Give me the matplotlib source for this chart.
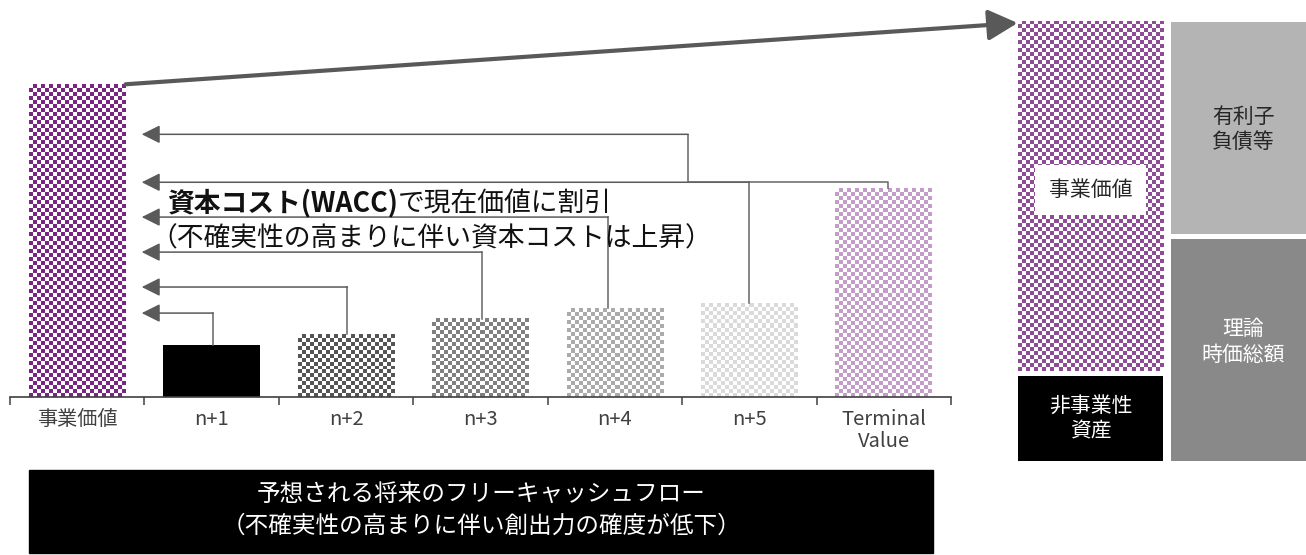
import numpy as np
import matplotlib
matplotlib.use('Agg')
import matplotlib.pyplot as plt
import matplotlib.colors as mcolors
from matplotlib.patches import Rectangle, ConnectionPatch

plt.rcParams['font.family'] = ['Noto Sans CJK JP', 'DejaVu Sans']

# ---------------- data ----------------
categories = ['事業価値', 'n+1', 'n+2', 'n+3', 'n+4', 'n+5', 'Terminal\nValue']
values = [300, 50, 60, 75, 85, 90, 200]
bar_colors = ['#7A2483', '#000000', '#555555', '#808080', '#ABABAB', '#DADADA', '#C49CC8']
checkered = [True, False, True, True, True, True, True]

# discount arrows: source bar index, x of riser, level reached (value units)
arrow_src = [1, 2, 3, 4, 5, 6]
arrow_riser_x = [1.01, 2.01, 3.01, 3.95, 5.0, 6.03]
arrow_levels = [80.5, 105.5, 139, 172.6, 206, 252]
tv_first_level = 206
tv_jog_x = 4.545
arrow_tip_x = 0.48

# right-hand composition
left_labels = ['非事業性\n資産', '事業価値']
left_values = [85, 350]
left_colors = ['#000000', '#8D4C95']
right_labels = ['理論\n時価総額', '有利子\n負債等']
right_values = [222, 212]
right_colors = ['#898989', '#B4B4B4']

text_bold = '資本コスト(WACC)'
text_rest = 'で現在価値に割引'
text_line2 = '（不確実性の高まりに伴い資本コストは上昇）'
box_line1 = '予想される将来のフリーキャッシュフロー'
box_line2 = '（不確実性の高まりに伴い創出力の確度が低下）'

W, H = 1306, 555
fig = plt.figure(figsize=(W / 100, H / 100), dpi=100)

def fx(px):
    return px / W

def fy(py):
    return (H - py) / H

BAR_W = 0.72
SEG_GAP = 5

ax = fig.add_axes([fx(10), fy(397), fx(951) - fx(10), fy(53) - fy(397)])
ax.set_xlim(-0.5, 6.5)
ax.set_ylim(0, 330)

ax2 = fig.add_axes([fx(1018), fy(461), fx(1306) - fx(1018), fy(21) - fy(461)])
ax2.set_xlim(-0.474, 1.408)
ax2.set_ylim(0, 440)
ax2.axis('off')


def checker(a, x0, y0, w, h, color, cell_px=4.0, zorder=2):
    p0 = a.transData.transform((x0, y0))
    p1 = a.transData.transform((x0 + w, y0 + h))
    ncol = max(1, int(round(abs(p1[0] - p0[0]) / cell_px)))
    nrow = max(1, int(round(abs(p1[1] - p0[1]) / cell_px)))
    ii, jj = np.indices((nrow, ncol))
    mask = (ii + jj) % 2 == 0
    img = np.ones((nrow, ncol, 3))
    img[mask] = np.array(mcolors.to_rgb(color))
    a.imshow(img, extent=(x0, x0 + w, y0, y0 + h), origin='lower',
             interpolation='nearest', aspect='auto', zorder=zorder)


# --- main bars ---
xs = np.arange(len(categories))
bars = ax.bar(xs, values, width=BAR_W, color=bar_colors, zorder=1)
for b, c, chk in zip(bars, bar_colors, checkered):
    if chk:
        checker(ax, b.get_x(), b.get_y(), b.get_width(), b.get_height(), c)

# --- discount arrows ---
LINE_C = '#666666'
HEAD_C = '#5A5A5A'
for src, rx, lvl in zip(arrow_src, arrow_riser_x, arrow_levels):
    top = values[src]
    is_tv = categories[src].startswith('Terminal')
    if is_tv:
        ax.plot([rx, rx, tv_jog_x, tv_jog_x], [top, tv_first_level, tv_first_level, lvl],
                color=LINE_C, lw=1.1, zorder=3, solid_capstyle='butt')
    else:
        ax.plot([rx, rx], [top, lvl], color=LINE_C, lw=1.1, zorder=3)
    start_x = tv_jog_x if is_tv else rx
    ax.annotate('', xy=(arrow_tip_x, lvl), xytext=(start_x, lvl),
                arrowprops=dict(arrowstyle='-|>,head_length=0.8,head_width=0.4',
                                mutation_scale=14, color=HEAD_C, lw=1.1,
                                shrinkA=0, shrinkB=0), zorder=3)

# --- axis styling ---
for s in ['top', 'right', 'left']:
    ax.spines[s].set_visible(False)
ax.spines['bottom'].set_color('#404040')
ax.spines['bottom'].set_linewidth(1.2)
ax.set_yticks([])
ax.set_xticks(xs)
ax.set_xticklabels(categories)
ax.set_xticks(np.arange(-0.5, len(categories), 1), minor=True)
ax.tick_params(axis='x', which='major', length=0, pad=8.5, labelsize=14.5, labelcolor='#404040')
ax.tick_params(axis='x', which='minor', length=6, width=1.1, color='#404040', direction='out')
for lbl in ax.get_xticklabels():
    lbl.set_linespacing(1.1)

# --- annotation text ---
FS_MAIN = 19.3
t1 = ax.text(0.668, 186, text_bold, fontsize=FS_MAIN, fontweight='bold',
             ha='left', va='center', color='#111111', zorder=4)
ax.annotate(text_rest, xy=(1, 0.5), xycoords=t1, fontsize=FS_MAIN, ha='left',
            va='center', color='#111111', zorder=4)
ax.text(0.545, 152, text_line2, fontsize=FS_MAIN, ha='left', va='center',
        color='#111111', zorder=4)

# --- right composition ---
bottom = 0
left_bars = []
for lab, v, c in zip(left_labels, left_values, left_colors):
    b = ax2.bar(0, v, width=0.948, bottom=bottom, color=c, zorder=1)[0]
    left_bars.append(b)
    bottom += v + SEG_GAP
checker(ax2, left_bars[1].get_x(), left_bars[1].get_y(), left_bars[1].get_width(),
        left_bars[1].get_height(), left_colors[1])

bottom = 0
right_bars = []
for lab, v, c in zip(right_labels, right_values, right_colors):
    b = ax2.bar(1, v, width=0.948, bottom=bottom, color=c, zorder=1)[0]
    right_bars.append(b)
    bottom += v + SEG_GAP

# labels on composition
ax2.text(0, 271, left_labels[1], ha='center', va='center', fontsize=15, color='#262626',
         zorder=5, bbox=dict(boxstyle='square,pad=0.65', fc='white', ec='none'))
b = left_bars[0]
ax2.text(0, b.get_y() + b.get_height() / 2, left_labels[0], ha='center', va='center',
         fontsize=15, color='white', linespacing=1.25, zorder=5)
ax2.text(1, 119, right_labels[0], ha='center', va='center', fontsize=15,
         color='white', linespacing=1.25, zorder=5)
ax2.text(1, 331, right_labels[1], ha='center', va='center', fontsize=15,
         color='#262626', linespacing=1.25, zorder=5)

# --- big arrow from 事業価値 bar to composition ---
b0 = bars[0]
con = ConnectionPatch(xyA=(b0.get_x() + b0.get_width(), values[0]), coordsA='data', axesA=ax,
                      xyB=(-0.476, 438), coordsB='data', axesB=ax2,
                      arrowstyle='-|>,head_length=0.9,head_width=0.47', mutation_scale=20,
                      color='#595959', lw=3.0, shrinkA=0, shrinkB=0, zorder=6)
fig.add_artist(con)

# --- bottom black box ---
fig.add_artist(Rectangle((fx(29), fy(553)), fx(933) - fx(29), fy(470) - fy(553),
                         transform=fig.transFigure, color='black', zorder=0))
fig.text(fx(481), fy(494), box_line1, ha='center', va='center', fontsize=17, color='white')
fig.text(fx(481), fy(526), box_line2, ha='center', va='center', fontsize=17, color='white')

fig.savefig('out.png', dpi=100)
